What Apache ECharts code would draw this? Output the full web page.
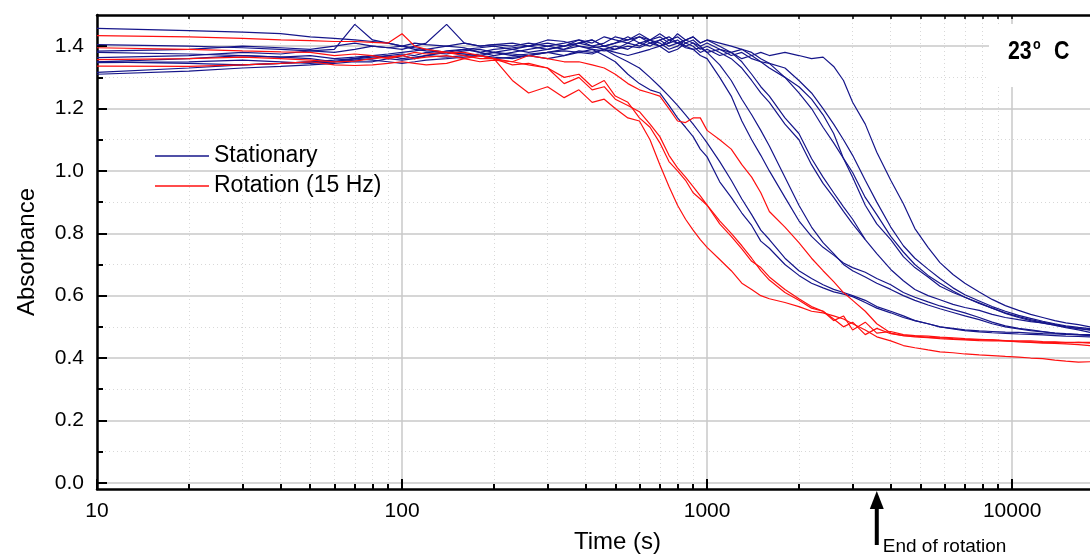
<!DOCTYPE html>
<html>
<head>
<meta charset="utf-8">
<script src="https://cdn.jsdelivr.net/npm/echarts@6/dist/echarts.min.js"></script>
<style>
  html, body { margin: 0; padding: 0; background: #fff; }
  #chart { width: 1090px; height: 556px; }
</style>
</head>
<body>
<div id="chart"></div>
<script>
// sampling times (s), shared by every run
const times = [10, 20, 30, 40, 50, 60, 70, 80, 90, 100,
  110, 120, 140, 160, 180, 200, 230, 260, 300, 340,
  380, 420, 460, 500, 550, 600, 650, 700, 750, 800,
  850, 900, 950, 1000, 1100, 1200, 1300, 1400, 1500, 1600,
  1800, 2000, 2200, 2400, 2600, 2800, 3000, 3300, 3600, 4000,
  4400, 4800, 5300, 5800, 6400, 7000, 7800, 8600, 9500, 10500,
  11500, 12600, 13800, 15000, 16500, 18000];

// stationary runs (absorbance)
const stat1 = [1.384, 1.39, 1.40, 1.395, 1.39, 1.40, 1.41, 1.40, 1.395, 1.40,
  1.41, 1.405, 1.40, 1.41, 1.40, 1.405, 1.41, 1.40, 1.42, 1.415,
  1.40, 1.39, 1.37, 1.35, 1.31, 1.28, 1.26, 1.25, 1.21, 1.17,
  1.14, 1.11, 1.07, 1.045, 0.965, 0.915, 0.865, 0.825, 0.775, 0.752,
  0.70, 0.665, 0.64, 0.625, 0.612, 0.605, 0.597, 0.578, 0.56, 0.545,
  0.53, 0.52, 0.51, 0.50, 0.495, 0.49, 0.487, 0.485, 0.483, 0.482,
  0.48, 0.478, 0.477, 0.476, 0.475, 0.474];
const stat2 = [1.35, 1.36, 1.37, 1.365, 1.36, 1.35, 1.355, 1.36, 1.37, 1.36,
  1.365, 1.37, 1.385, 1.39, 1.38, 1.39, 1.395, 1.40, 1.39, 1.40,
  1.41, 1.40, 1.39, 1.37, 1.35, 1.33, 1.30, 1.27, 1.24, 1.21,
  1.18, 1.15, 1.12, 1.09, 1.03, 0.97, 0.91, 0.86, 0.81, 0.78,
  0.72, 0.68, 0.655, 0.635, 0.62, 0.61, 0.60, 0.585, 0.565, 0.55,
  0.535, 0.52, 0.51, 0.50, 0.493, 0.488, 0.484, 0.481, 0.479, 0.477,
  0.476, 0.474, 0.472, 0.47, 0.469, 0.468];
const stat3 = [1.457, 1.45, 1.445, 1.44, 1.43, 1.425, 1.42, 1.415, 1.41, 1.40,
  1.39, 1.385, 1.38, 1.375, 1.37, 1.365, 1.36, 1.37, 1.38, 1.39,
  1.40, 1.395, 1.40, 1.41, 1.42, 1.43, 1.41, 1.42, 1.40, 1.41,
  1.395, 1.39, 1.37, 1.36, 1.30, 1.24, 1.16, 1.10, 1.05, 1.00,
  0.915, 0.84, 0.79, 0.755, 0.73, 0.705, 0.69, 0.675, 0.655, 0.635,
  0.61, 0.595, 0.58, 0.567, 0.555, 0.545, 0.53, 0.515, 0.503, 0.495,
  0.49, 0.485, 0.48, 0.478, 0.476, 0.475];
const stat4 = [1.31, 1.32, 1.33, 1.335, 1.34, 1.345, 1.35, 1.35, 1.36, 1.355,
  1.36, 1.37, 1.365, 1.37, 1.375, 1.38, 1.37, 1.375, 1.38, 1.385,
  1.38, 1.39, 1.385, 1.39, 1.40, 1.395, 1.41, 1.40, 1.42, 1.41,
  1.40, 1.39, 1.395, 1.38, 1.34, 1.29, 1.23, 1.18, 1.13, 1.08,
  0.98, 0.89, 0.82, 0.77, 0.735, 0.70, 0.68, 0.66, 0.64, 0.62,
  0.60, 0.585, 0.57, 0.558, 0.546, 0.535, 0.523, 0.51, 0.50, 0.493,
  0.488, 0.484, 0.48, 0.477, 0.474, 0.472];
const stat5 = [1.38, 1.375, 1.37, 1.365, 1.37, 1.36, 1.365, 1.37, 1.375, 1.38,
  1.385, 1.39, 1.38, 1.39, 1.395, 1.40, 1.39, 1.38, 1.39, 1.40,
  1.41, 1.42, 1.40, 1.41, 1.43, 1.41, 1.42, 1.40, 1.41, 1.42,
  1.40, 1.41, 1.39, 1.40, 1.38, 1.36, 1.33, 1.29, 1.25, 1.22,
  1.15, 1.10, 1.02, 0.96, 0.915, 0.87, 0.83, 0.78, 0.735, 0.684,
  0.648, 0.62, 0.60, 0.587, 0.572, 0.562, 0.553, 0.54, 0.53, 0.523,
  0.517, 0.513, 0.505, 0.497, 0.49, 0.482];
const stat6 = [1.35, 1.345, 1.34, 1.345, 1.35, 1.35, 1.36, 1.355, 1.35, 1.345,
  1.35, 1.355, 1.36, 1.365, 1.37, 1.36, 1.365, 1.37, 1.38, 1.37,
  1.385, 1.38, 1.39, 1.40, 1.39, 1.41, 1.40, 1.42, 1.43, 1.41,
  1.42, 1.43, 1.41, 1.42, 1.40, 1.38, 1.35, 1.31, 1.27, 1.24,
  1.17, 1.12, 1.04, 0.98, 0.93, 0.885, 0.845, 0.78, null, null,
  null, null, null, null, null, null, null, null, null, null,
  null, null, null, null, null, null];
const stat7 = [1.405, 1.40, 1.395, 1.39, 1.385, 1.38, 1.39, 1.40, 1.395, 1.39,
  1.40, 1.41, 1.47, 1.41, 1.40, 1.405, 1.40, 1.41, 1.40, 1.41,
  1.42, 1.40, 1.41, 1.43, 1.42, 1.44, 1.42, 1.43, 1.41, 1.44,
  1.42, 1.43, 1.41, 1.42, 1.41, 1.40, 1.39, 1.38, 1.36, 1.345,
  1.30, 1.27, 1.23, 1.18, 1.12, 1.04, 0.98, 0.89, 0.83, 0.78,
  0.725, 0.69, 0.66, 0.63, 0.61, 0.595, 0.577, 0.56, 0.543, 0.53,
  0.52, 0.512, 0.505, 0.50, 0.495, 0.491];
const stat8 = [1.363, 1.37, 1.38, 1.375, 1.385, 1.39, 1.47, 1.42, 1.41, 1.40,
  1.395, 1.39, 1.40, 1.395, 1.38, 1.37, 1.38, 1.39, 1.40, 1.39,
  1.41, 1.42, 1.40, 1.39, 1.41, 1.40, 1.42, 1.41, 1.39, 1.40,
  1.42, 1.41, 1.40, 1.38, 1.39, 1.37, 1.38, 1.36, 1.35, 1.33,
  1.30, 1.25, 1.20, 1.14, 1.09, 1.04, 0.995, 0.915, 0.86, 0.79,
  0.74, 0.70, 0.665, 0.64, 0.615, 0.595, 0.575, 0.56, 0.545, 0.533,
  0.523, 0.515, 0.508, 0.50, 0.494, 0.489];
const stat9 = [1.347, 1.35, 1.355, 1.35, 1.345, 1.35, 1.36, 1.37, 1.365, 1.37,
  1.36, 1.37, 1.38, 1.375, 1.37, 1.38, 1.375, 1.37, 1.36, 1.37,
  1.38, 1.375, 1.39, 1.38, 1.37, 1.38, 1.39, 1.40, 1.38, 1.39,
  1.41, 1.40, 1.38, 1.39, 1.37, 1.38, 1.36, 1.37, 1.35, 1.345,
  1.33, 1.29, 1.25, 1.20, 1.15, 1.10, 1.05, 0.97, 0.90, 0.82,
  0.76, 0.72, 0.685, 0.655, 0.625, 0.603, 0.583, 0.565, 0.55, 0.537,
  0.527, 0.518, 0.51, 0.503, 0.498, 0.494];
const stat10 = [1.316, 1.33, 1.34, 1.345, 1.35, 1.355, 1.36, 1.365, 1.37, 1.375,
  1.37, 1.38, 1.375, 1.385, 1.39, 1.38, 1.39, 1.40, 1.41, 1.40,
  1.42, 1.41, 1.43, 1.42, 1.41, 1.43, 1.42, 1.44, 1.42, 1.43,
  1.41, 1.42, 1.40, 1.41, 1.39, 1.38, 1.39, 1.37, 1.38, 1.37,
  1.38, 1.37, 1.36, 1.365, 1.335, 1.29, 1.22, 1.15, 1.06, 0.97,
  0.895, 0.815, 0.755, 0.706, 0.668, 0.64, 0.612, 0.588, 0.568, 0.553,
  0.54, 0.53, 0.52, 0.513, 0.507, 0.50];

// rotation (15 Hz) runs
const rot1 = [1.357, 1.36, 1.365, 1.36, 1.355, 1.35, 1.352, 1.36, 1.365, 1.37,
  1.38, 1.375, 1.38, 1.38, 1.37, 1.36, 1.29, 1.25, 1.27, 1.235,
  1.26, 1.22, 1.23, 1.20, 1.17, 1.16, 1.10, 1.02, 0.95, 0.89,
  0.845, 0.81, 0.78, 0.755, 0.716, 0.68, 0.64, 0.62, 0.60, 0.59,
  0.578, 0.565, 0.55, 0.545, 0.535, 0.525, 0.51, 0.49, 0.468, 0.455,
  0.44, 0.433, 0.426, 0.42, 0.417, 0.413, 0.41, 0.408, 0.405, 0.403,
  0.40, 0.398, 0.393, 0.39, 0.387, 0.388];
const rot2 = [1.434, 1.43, 1.425, 1.42, 1.418, 1.415, 1.415, 1.412, 1.41, 1.44,
  1.40, 1.39, 1.38, 1.37, 1.36, 1.36, 1.35, 1.34, 1.33, 1.30,
  1.31, 1.27, 1.29, 1.24, 1.22, 1.17, 1.14, 1.09, 1.03, 1.00,
  0.97, 0.93, 0.91, 0.89, 0.84, 0.80, 0.76, 0.72, 0.68, 0.65,
  0.61, 0.585, 0.56, 0.55, 0.52, 0.535, 0.49, 0.515, 0.48, 0.485,
  0.475, 0.472, 0.47, 0.467, 0.465, 0.462, 0.46, 0.458, 0.455, 0.452,
  0.45, 0.448, 0.447, 0.445, 0.443, 0.44];
const rot3 = [1.336, 1.335, 1.34, 1.345, 1.35, 1.34, 1.338, 1.34, 1.345, 1.35,
  1.345, 1.34, 1.345, 1.36, 1.37, 1.36, 1.34, 1.345, 1.33, 1.28,
  1.30, 1.26, 1.27, 1.23, 1.21, 1.19, 1.15, 1.11, 1.05, 1.01,
  0.98, 0.95, 0.92, 0.89, 0.83, 0.79, 0.75, 0.71, 0.69, 0.66,
  0.62, 0.59, 0.565, 0.55, 0.525, 0.50, 0.515, 0.475, 0.495, 0.478,
  0.472, 0.47, 0.466, 0.465, 0.462, 0.46, 0.458, 0.458, 0.456, 0.455,
  0.455, 0.453, 0.452, 0.45, 0.45, 0.45];
const rot4 = [1.395, 1.39, 1.385, 1.382, 1.38, 1.37, 1.375, 1.37, 1.36, 1.37,
  1.36, 1.365, 1.37, 1.36, 1.35, 1.355, 1.35, 1.37, 1.36, 1.35,
  1.35, 1.34, 1.33, 1.31, 1.28, 1.26, 1.25, 1.24, 1.20, 1.16,
  1.155, 1.17, 1.17, 1.13, 1.10, 1.07, 1.02, 0.98, 0.93, 0.87,
  0.82, 0.77, 0.72, 0.68, 0.645, 0.61, 0.585, 0.55, 0.51, 0.48,
  0.472, 0.468, 0.465, 0.462, 0.46, 0.458, 0.456, 0.455, 0.455, 0.453,
  0.452, 0.45, 0.45, 0.448, 0.45, 0.448];

const stationaryRuns = [stat1, stat2, stat3, stat4, stat5, stat6, stat7, stat8, stat9, stat10];
const rotationRuns = [rot1, rot2, rot3, rot4];

// axis ticks
const majorTimes = [10, 100, 1000, 10000];
const minorTimes = [20, 30, 40, 50, 60, 70, 80, 90, 200, 300, 400, 500, 600, 700, 800, 900,
  2000, 3000, 4000, 5000, 6000, 7000, 8000, 9000];
const majorAbs = [0, 0.2, 0.4, 0.6, 0.8, 1.0, 1.2, 1.4];
const minorAbs = [0.1, 0.3, 0.5, 0.7, 0.9, 1.1, 1.3];
const rotationEnd = 3600;

const FONT = '"Liberation Sans", Arial, sans-serif';
const BLUE = '#16168a';
const RED = '#ff1010';

const toPairs = (arr) => times.map((t, i) => [t, arr[i]]);

const makeSeries = (name, color) => (arr) => ({
    name, type: 'line', data: toPairs(arr), symbol: 'none', showSymbol: false,
    connectNulls: false, clip: true,
    lineStyle: { color, width: 1.2 }, itemStyle: { color }
});

const logAxisBase = { type: 'log', min: 10, max: 18000, logBase: 10 };

const chart = echarts.init(document.getElementById('chart'));
chart.setOption({
    animation: false,
    backgroundColor: '#fff',
    grid: { left: 97, right: 0, top: 15, bottom: 67, containLabel: false, outerBoundsMode: 'none' },
    legend: {
        orient: 'vertical', left: 150, top: 139, itemWidth: 54, itemHeight: 1.3, itemGap: 6,
        icon: 'rect',
        data: ['Stationary', 'Rotation (15 Hz)'],
        textStyle: { fontSize: 23, color: '#000', fontFamily: FONT, lineHeight: 24 }
    },
    xAxis: [
        {
            ...logAxisBase, position: 'bottom',
            axisLine: { onZero: false, lineStyle: { color: '#000', width: 2.5 } },
            axisTick: { inside: true, length: 10, customValues: majorTimes, lineStyle: { color: '#000', width: 2 } },
            axisLabel: { customValues: majorTimes, fontSize: 21, color: '#000', margin: 12, fontFamily: FONT,
                formatter: v => String(Math.round(v)) },
            splitLine: { show: true, lineStyle: { color: '#c8c8c8', width: 1.5 } },
            name: 'Time (s)', nameLocation: 'middle', nameGap: 41,
            nameTextStyle: { fontSize: 24, color: '#000', fontFamily: FONT, padding: [0, 0, 0, 48] }
        },
        {
            ...logAxisBase, position: 'bottom',
            axisLine: { show: false, onZero: false },
            axisTick: { inside: true, length: 5, customValues: minorTimes, lineStyle: { color: '#000', width: 2 } },
            axisLabel: { show: false },
            splitLine: { show: true, lineStyle: { color: '#d8d8d8', width: 1, type: [1, 3] } }
        },
        {
            ...logAxisBase, position: 'top',
            axisLine: { onZero: false, lineStyle: { color: '#000', width: 2.5 } },
            axisTick: { inside: true, length: 4, customValues: minorTimes.concat(majorTimes.slice(1)),
                lineStyle: { color: '#000', width: 1.5 } },
            axisLabel: { show: false },
            splitLine: { show: false }
        }
    ],
    yAxis: [
        {
            type: 'value', min: -0.02, max: 1.5, position: 'left',
            axisLine: { show: true, onZero: false, lineStyle: { color: '#000', width: 2.5 } },
            axisTick: { inside: true, length: 10, customValues: majorAbs, lineStyle: { color: '#000', width: 2 } },
            axisLabel: { customValues: majorAbs, fontSize: 21, color: '#000', margin: 13, fontFamily: FONT,
                formatter: v => v.toFixed(1) },
            splitLine: { show: true, lineStyle: { color: '#c8c8c8', width: 1.5 } },
            name: 'Absorbance', nameLocation: 'middle', nameGap: 58,
            nameTextStyle: { fontSize: 24, color: '#000', fontFamily: FONT }
        },
        {
            type: 'value', min: -0.02, max: 1.5, position: 'left',
            axisLine: { show: false, onZero: false },
            axisTick: { inside: true, length: 6, customValues: minorAbs, lineStyle: { color: '#000', width: 2 } },
            axisLabel: { show: false },
            splitLine: { show: true, lineStyle: { color: '#d8d8d8', width: 1, type: [1, 3] } }
        }
    ],
    series: [
        ...stationaryRuns.map(makeSeries('Stationary', BLUE)),
        ...rotationRuns.map(makeSeries('Rotation (15 Hz)', RED))
    ]
});

// annotations: temperature box and end-of-rotation arrow
const ax = chart.convertToPixel({ xAxisIndex: 0 }, rotationEnd);
const boldText = (text, x, y, size, sx) => ({
    type: 'text', z: 6, x, y, scaleX: sx,
    style: { text, fontSize: size, fontWeight: 'bold', fontFamily: FONT, fill: '#000', verticalAlign: 'middle' }
});
chart.setOption({
    graphic: [
        { type: 'rect', z: 5, shape: { x: 989, y: 24, width: 101, height: 63 }, style: { fill: '#fff' } },
        boldText('23', 1008, 52, 26, 0.82),
        boldText('o', 1033, 45, 14, 0.9),
        boldText('C', 1054, 52, 26, 0.82),
        { type: 'line', z: 6, shape: { x1: ax, y1: 505, x2: ax, y2: 545 }, style: { stroke: '#000', lineWidth: 4 } },
        { type: 'polygon', z: 6, shape: { points: [[ax, 491], [ax - 7, 509], [ax + 7, 509]] }, style: { fill: '#000' } },
        { type: 'text', z: 6, x: ax + 6, y: 537, style: { text: 'End of rotation', fontSize: 19,
            fontFamily: FONT, fill: '#000' } }
    ]
});
</script>
</body>
</html>
